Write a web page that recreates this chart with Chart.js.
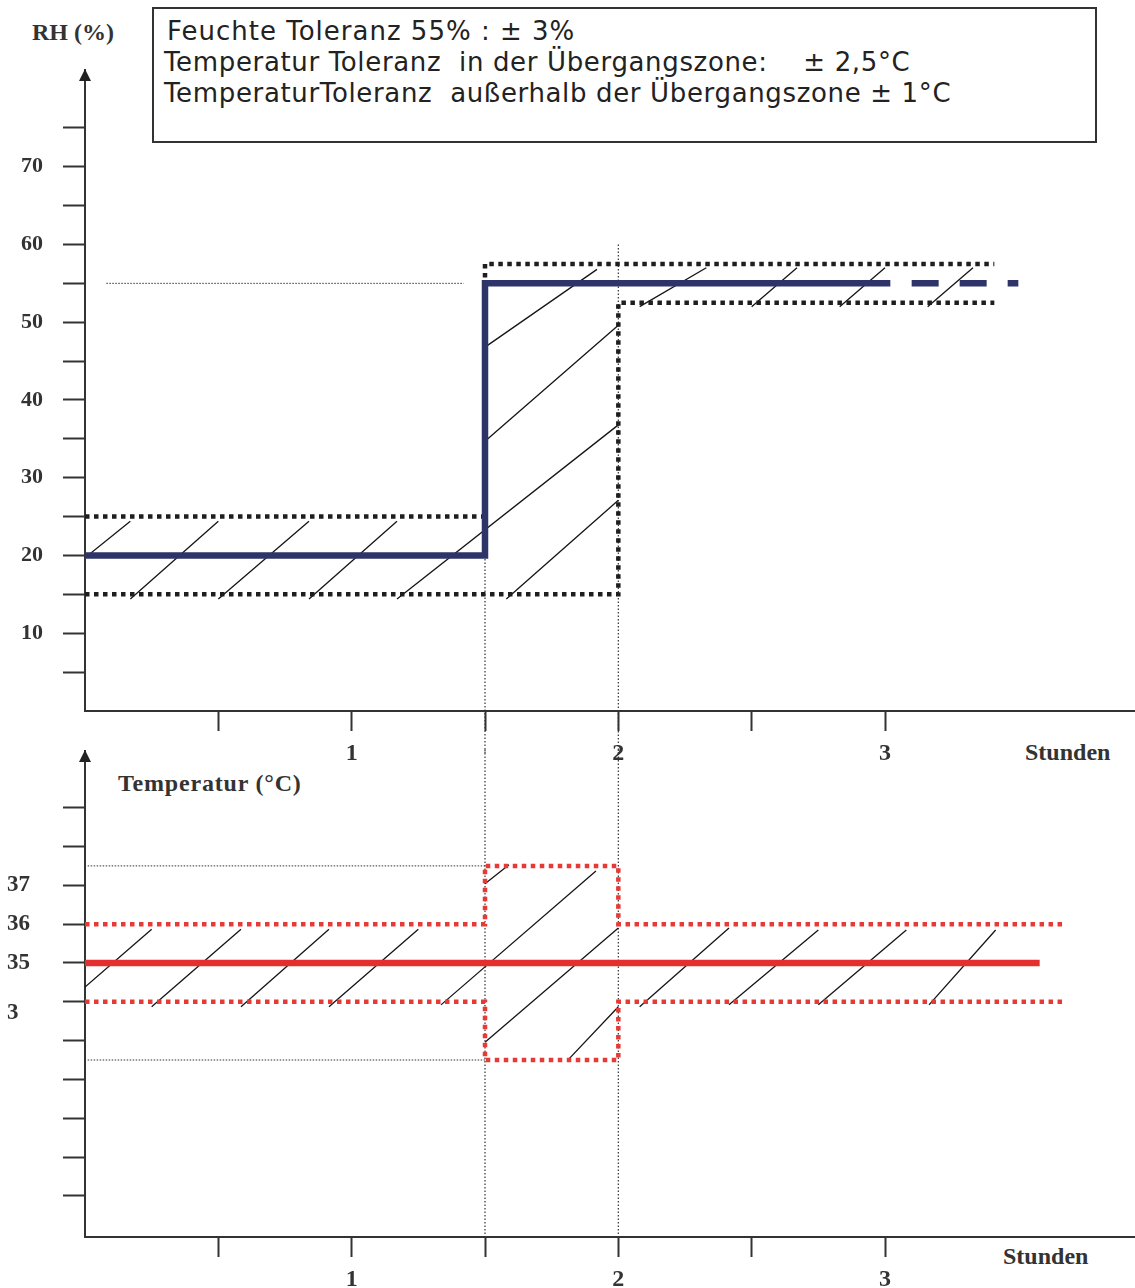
<!DOCTYPE html>
<html>
<head>
<meta charset="utf-8">
<script src="https://cdn.jsdelivr.net/npm/chart.js"></script>
<style>
body { margin: 0; background: #fff; width: 1135px; height: 1288px; position: relative; overflow: hidden; }
canvas { position: absolute; left: 0; }
#box { position: absolute; left: 152px; top: 7px; width: 945px; height: 136px; box-sizing: border-box;
       border: 2px solid #333; padding: 7px 0 0 10px; font-family: "DejaVu Sans"; font-size: 26px;
       letter-spacing: 0.65px; line-height: 31px; color: #222; white-space: pre; }
.lbl { position: absolute; font-family: "Liberation Serif"; font-weight: bold; font-size: 24px;
       line-height: 24px; color: #333; white-space: nowrap; }
</style>
</head>
<body>
<div id="box"><div style="margin-left:3px;letter-spacing:1px">Feuchte Toleranz 55% : ± 3%</div><div>Temperatur Toleranz  in der Übergangszone:    ± 2,5°C</div><div>TemperaturToleranz  außerhalb der Übergangszone ± 1°C</div></div>
<div class="lbl" style="left:32px;top:20px">RH (%)</div>
<div class="lbl" style="left:1025px;top:740px">Stunden</div>
<div class="lbl" style="left:118px;top:771px;letter-spacing:0.8px">Temperatur (°C)</div>
<div class="lbl" style="left:1003px;top:1244px">Stunden</div>
<canvas id="rhChart" width="1135" height="775" style="top:0"></canvas>
<canvas id="tempChart" width="1135" height="548" style="top:740px"></canvas>
<script>
// x axis (hours)
var hourTicks = [0.5, 1, 1.5, 2, 2.5, 3];
var hourLabels = ['', '1', '', '2', '', '3'];

// RH chart
var rhTicks = [5, 10, 15, 20, 25, 30, 35, 40, 45, 50, 55, 60, 65, 70, 75];
var rhLabels = ['', '10', '', '20', '', '30', '', '40', '', '50', '', '60', '', '70', ''];
var rhSetpoint = [[0, 20], [1.5, 20], [1.5, 55], [3.02, 55]];
var rhSetpointEnd = [[3.1, 55], [3.5, 55]];
var rhUpper = [[0, 25], [1.5, 25], [1.5, 57.5], [3.41, 57.5]];
var rhLower = [[0, 15], [2, 15], [2, 52.5], [3.41, 52.5]];
var rhRef = [[0.08, 55], [1.42, 55]];
var rhZoneStart = [[1.5, 20], [1.5, -5.5]];
var rhZoneEnd = [[2, 60], [2, -5.5]];
var rhHatch = [
    [0, 19.7, 0.17, 24.4], [0.17, 14.4, 0.5, 24.4], [0.5, 14.4, 0.84, 24.4], [0.84, 14.4, 1.17, 24.4],
    [1.17, 14.4, 2, 36.8], [1.5, 34.7, 2, 49.6], [1.5, 46.8, 1.92, 56.8], [1.58, 14.4, 2, 27.1],
    [2.08, 52, 2.33, 57], [2.5, 52, 2.67, 57], [2.83, 52, 3, 57], [3.16, 52, 3.33, 57]
];

// temperature chart
var tempTicks = [29, 30, 31, 32, 33, 33.7, 34, 35, 36, 37, 38, 39];
var tempLabels = ['', '', '', '', '', '3', '', '35', '36', '37', '', ''];
var tempSetpoint = [[0, 35], [3.58, 35]];
var tempUpper = [[0, 36], [1.5, 36], [1.5, 37.5], [2, 37.5], [2, 36], [3.675, 36]];
var tempLower = [[0, 34], [1.5, 34], [1.5, 32.5], [2, 32.5], [2, 34], [3.675, 34]];
var tempRefHigh = [[0.01, 37.5], [1.5, 37.5]];
var tempRefLow = [[0.01, 32.5], [1.5, 32.5]];
var tempZoneStart = [[1.5, 40.5], [1.5, 27.9]];
var tempZoneEnd = [[2, 40.5], [2, 27.9]];
var tempHatch = [
    [0, 34.38, 0.25, 35.87], [0.25, 33.87, 0.585, 35.87], [0.585, 33.87, 0.915, 35.87], [0.915, 33.87, 1.25, 35.87],
    [1.335, 33.92, 1.916, 37.37], [1.5, 37.04, 1.59, 37.53], [1.5, 32.96, 2, 35.9], [1.815, 32.53, 2, 33.87],
    [2.08, 33.87, 2.415, 35.9], [2.415, 33.92, 2.75, 35.85], [2.75, 33.92, 3.08, 35.85], [3.165, 33.92, 3.415, 35.85]
];

var axisColor = '#333';

function pts(arr) {
    return arr.map(function (p) { return { x: p[0], y: p[1] }; });
}
function segs(arr) {
    var out = [];
    arr.forEach(function (s) {
        out.push({ x: s[0], y: s[1] });
        out.push({ x: s[2], y: s[3] });
        out.push({ x: s[2], y: null });
    });
    return out;
}
function line(data, color, width, dash, clip) {
    return {
        data: data, borderColor: color, borderWidth: width, borderDash: dash || [],
        pointRadius: 0, tension: 0, fill: false, spanGaps: false,
        borderCapStyle: 'butt', borderJoinStyle: 'miter', clip: clip ? false : undefined
    };
}

var axisArrow = {
    id: 'axisArrow',
    afterDraw: function (chart) {
        var ctx = chart.ctx, a = chart.chartArea;
        ctx.save();
        ctx.fillStyle = '#222';
        ctx.beginPath();
        ctx.moveTo(a.left, a.top - 1);
        ctx.lineTo(a.left - 6, a.top + 11);
        ctx.lineTo(a.left + 6, a.top + 11);
        ctx.closePath();
        ctx.fill();
        ctx.restore();
    }
};

function xScale(height, xMax) {
    return {
        type: 'linear', min: 0, max: xMax,
        afterBuildTicks: function (s) { s.ticks = hourTicks.map(function (v) { return { value: v }; }); },
        afterFit: function (s) { s.height = height; s.paddingLeft = 0; s.paddingRight = 0; },
        grid: { drawOnChartArea: false, drawTicks: true, tickLength: 20, tickWidth: 2, tickColor: axisColor },
        border: { display: true, color: axisColor, width: 2 },
        ticks: {
            autoSkip: false, maxRotation: 0, padding: 8, color: '#333',
            font: { family: 'Liberation Serif', weight: 'bold', size: 24 },
            callback: function (v, i) { return hourLabels[i]; }
        }
    };
}

function yScale(opts) {
    return {
        type: 'linear', min: opts.min, max: opts.max,
        afterBuildTicks: function (s) { s.ticks = opts.ticks.map(function (v) { return { value: v }; }); },
        afterFit: function (s) { s.width = opts.width; s.paddingTop = 0; s.paddingBottom = 0; },
        grid: {
            drawOnChartArea: false, drawTicks: true, tickLength: 22, tickWidth: 2,
            tickColor: function (c) { return c.tick && opts.hidden.indexOf(c.tick.value) >= 0 ? 'rgba(0,0,0,0)' : axisColor; }
        },
        border: { display: true, color: axisColor, width: 2 },
        ticks: {
            autoSkip: false, padding: opts.padding, color: '#333', crossAlign: opts.align,
            font: { family: 'Liberation Serif', weight: 'bold', size: opts.size },
            callback: function (v, i) { return opts.labels[i]; }
        }
    };
}

var common = {
    responsive: false, animation: false, devicePixelRatio: 1,
    plugins: { legend: { display: false }, tooltip: { enabled: false } }
};

new Chart(document.getElementById('rhChart'), {
    type: 'line',
    data: {
        datasets: [
            line(pts(rhSetpoint), '#2e3468', 6.5),
            line(pts(rhSetpointEnd), '#2e3468', 6.5, [27, 21]),
            line(pts(rhUpper), '#1e1e1e', 4.5, [4.5, 4.5]),
            line(pts(rhLower), '#1e1e1e', 4.5, [4.5, 4.5]),
            line(segs(rhHatch), '#151515', 1.3),
            line(pts(rhRef), '#333', 1, [1.5, 1.5]),
            line(pts(rhZoneStart), '#333', 1.2, [1.5, 2], true),
            line(pts(rhZoneEnd), '#333', 1.2, [1.5, 2], true)
        ]
    },
    options: Object.assign({}, common, {
        layout: { padding: { top: 70, left: 0, right: 0, bottom: 0 } },
        scales: {
            x: xScale(64, 3.9375),
            y: yScale({ min: 0, max: 82.44, ticks: rhTicks, labels: rhLabels, width: 85, padding: 20,
                        align: 'near', size: 22, hidden: [] })
        }
    }),
    plugins: [axisArrow]
});

new Chart(document.getElementById('tempChart'), {
    type: 'line',
    data: {
        datasets: [
            line(pts(tempSetpoint), '#e32f2e', 6.5),
            line(pts(tempUpper), '#e53a36', 4.5, [4.5, 4.5]),
            line(pts(tempLower), '#e53a36', 4.5, [4.5, 4.5]),
            line(segs(tempHatch), '#151515', 1.3),
            line(pts(tempRefHigh), '#333', 1, [1.5, 1.5]),
            line(pts(tempRefLow), '#333', 1, [1.5, 1.5]),
            line(pts(tempZoneStart), '#333', 1.2, [1.5, 2], true),
            line(pts(tempZoneEnd), '#333', 1.2, [1.5, 2], true)
        ]
    },
    options: Object.assign({}, common, {
        layout: { padding: { top: 11, left: 7, right: 0, bottom: 0 } },
        scales: {
            x: xScale(51, 3.9375),
            y: yScale({ min: 27.94, max: 40.46, ticks: tempTicks, labels: tempLabels, width: 78, padding: 0,
                        align: 'far', size: 23, hidden: [33.7] })
        }
    }),
    plugins: [axisArrow]
});
</script>
</body>
</html>
